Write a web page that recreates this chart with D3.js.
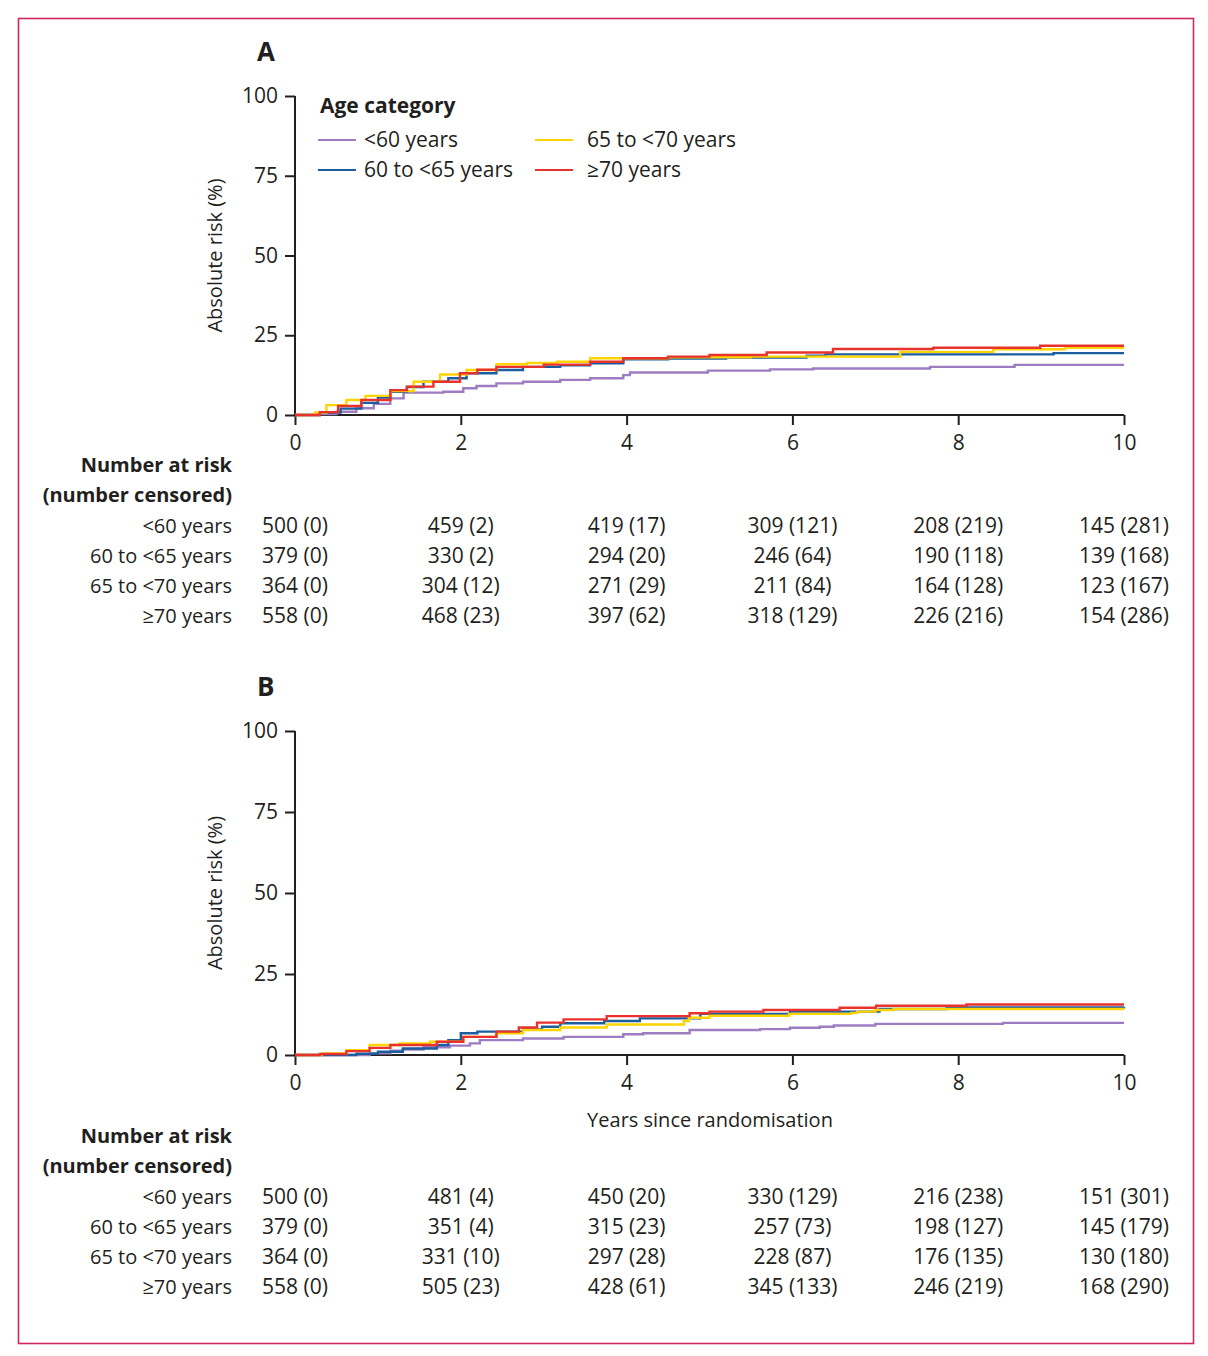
<!DOCTYPE html>
<html lang="en">
<head>
<meta charset="utf-8">
<title>Absolute risk by age category</title>
<script src="https://cdn.jsdelivr.net/npm/d3@7/dist/d3.min.js"></script>
<style>
  body { margin: 0; background: #fff; }
  text { font-family: "Open Sans", "Noto Sans", sans-serif; fill: #231f20; }
</style>
</head>
<body>
<script>
// categories + colours
var groups = ["<60 years", "60 to <65 years", "65 to <70 years", "≥70 years"];
var colors = ["#9e7cc1", "#1b5e9f", "#ffd400", "#e8322c"];
var xTicks = [0, 2, 4, 6, 8, 10];
var yTicks = [0, 25, 50, 75, 100];

// panel A curves (years, %)
var tA_lt60 = [0, 0.28, 0.5, 0.74, 0.95, 1.15, 1.31, 1.79, 2.03, 2.19, 2.43, 2.75, 3.2, 3.56, 3.96, 4.04, 4.98, 5.73, 6.25, 7.66, 8.68, 10];
var rA_lt60 = [0, 0.3, 1.0, 2.1, 3.5, 5.2, 7.0, 7.3, 8.4, 9.1, 9.9, 10.4, 11.0, 11.5, 12.5, 13.3, 13.9, 14.3, 14.6, 15.1, 15.7, 15.7];
var tA_60 = [0, 0.3, 0.55, 0.8, 1.0, 1.15, 1.35, 1.55, 1.85, 2.07, 2.43, 2.75, 3.2, 3.56, 3.96, 4.5, 5.2, 6.17, 6.4, 9.15, 10];
var rA_60 = [0, 0.8, 2.0, 3.8, 5.5, 7.3, 8.8, 10.4, 11.5, 13.1, 14.1, 15.1, 15.6, 16.2, 17.5, 17.7, 18.0, 18.6, 19.0, 19.4, 19.4];
var tA_65 = [0, 0.24, 0.38, 0.62, 0.85, 1.15, 1.43, 1.75, 2.07, 2.43, 2.8, 3.16, 3.56, 4.5, 5.5, 7.3, 8.42, 9.29, 10];
var rA_65 = [0, 0.8, 3.1, 4.7, 6.0, 7.5, 10.4, 12.7, 14.1, 15.9, 16.3, 16.7, 17.8, 18.1, 18.3, 19.8, 20.6, 21.1, 21.1];
var tA_70 = [0, 0.3, 0.52, 0.8, 1.15, 1.35, 1.67, 1.99, 2.2, 2.43, 3.0, 3.56, 3.96, 4.5, 5.0, 5.69, 6.49, 7.7, 8.99, 10];
var rA_70 = [0, 0.9, 2.8, 4.7, 7.8, 8.9, 10.4, 13.1, 14.2, 15.1, 15.8, 16.7, 17.8, 18.3, 18.8, 19.6, 20.7, 21.1, 21.7, 21.7];

// panel B curves
var tB_lt60 = [0, 0.9, 1.15, 1.3, 1.55, 1.87, 2.11, 2.23, 2.75, 3.24, 3.96, 4.2, 4.76, 5.61, 5.97, 6.33, 6.5, 7.0, 8.54, 10];
var rB_lt60 = [0, 0.5, 1.3, 1.7, 2.4, 2.9, 3.6, 4.6, 5.1, 5.6, 6.4, 6.7, 7.7, 8.0, 8.4, 8.7, 9.1, 9.6, 9.9, 9.9];
var tB_60 = [0, 0.74, 1.0, 1.3, 1.71, 1.85, 2.0, 2.2, 2.75, 2.98, 3.2, 3.73, 4.16, 4.89, 5.97, 7.05, 7.86, 10];
var rB_60 = [0, 0.4, 1.0, 2.0, 3.1, 4.6, 6.7, 7.2, 7.9, 8.7, 9.8, 10.5, 11.3, 12.7, 13.4, 14.2, 14.7, 14.8];
var tB_65 = [0, 0.32, 0.62, 0.9, 1.26, 1.63, 2.03, 2.43, 2.75, 3.2, 3.76, 4.69, 4.75, 5.0, 5.96, 6.71, 6.78, 7.0, 7.22, 10];
var rB_65 = [0, 0.5, 1.5, 3.1, 3.6, 4.1, 5.6, 6.7, 7.7, 8.5, 9.4, 10.5, 11.5, 12.1, 12.7, 13.0, 13.4, 13.9, 14.2, 14.2];
var tB_70 = [0, 0.3, 0.62, 0.9, 1.15, 1.71, 2.03, 2.43, 2.7, 2.92, 3.24, 3.76, 4.76, 5.0, 5.65, 6.57, 7.01, 8.1, 10];
var rB_70 = [0, 0.3, 1.2, 2.2, 3.1, 4.1, 5.6, 7.2, 8.5, 10.0, 11.0, 12.0, 12.9, 13.4, 13.9, 14.6, 15.2, 15.6, 15.6];

// number at risk (number censored), one row per age group
var atRiskA = [[500, 459, 419, 309, 208, 145], [379, 330, 294, 246, 190, 139], [364, 304, 271, 211, 164, 123], [558, 468, 397, 318, 226, 154]];
var censA   = [[0, 2, 17, 121, 219, 281], [0, 2, 20, 64, 118, 168], [0, 12, 29, 84, 128, 167], [0, 23, 62, 129, 216, 286]];
var atRiskB = [[500, 481, 450, 330, 216, 151], [379, 351, 315, 257, 198, 145], [364, 331, 297, 228, 176, 130], [558, 505, 428, 345, 246, 168]];
var censB   = [[0, 4, 20, 129, 238, 301], [0, 4, 23, 73, 127, 179], [0, 10, 28, 87, 135, 180], [0, 23, 61, 133, 219, 290]];

var svg = d3.select("body").append("svg")
  .attr("width", 1208).attr("height", 1356);

// frame
svg.append("rect")
  .attr("x", 18.5).attr("y", 18.5).attr("width", 1175).attr("height", 1325)
  .attr("fill", "none").attr("stroke", "#d0275e").attr("stroke-width", 1.6);

var x = d3.scaleLinear().domain([0, 10]).range([295, 1124]);

function zip(t, r) { return t.map(function(d, i) { return [d, r[i]]; }); }

function drawPanel(opt) {
  var y = d3.scaleLinear().domain([0, 100]).range([opt.y0, opt.y100]);
  var g = svg.append("g");

  g.append("text").attr("x", 257).attr("y", opt.y100 - 35)
    .style("font-size", "26px").style("font-weight", "bold").text(opt.letter);

  // y axis
  var yAxis = g.append("g").attr("transform", "translate(295,0)")
    .call(d3.axisLeft(y).tickValues(yTicks).tickSize(10).tickPadding(7));
  // x axis
  var xAxis = g.append("g").attr("transform", "translate(0," + opt.y0 + ")")
    .call(d3.axisBottom(x).tickValues(xTicks).tickSize(10).tickPadding(10));
  [yAxis, xAxis].forEach(function(a) {
    a.select(".domain").attr("stroke", "#231f20").attr("stroke-width", 2);
    a.selectAll(".tick line").attr("stroke", "#231f20").attr("stroke-width", 2);
    a.selectAll(".tick text").style("font-size", "21px")
      .style("font-family", "'Open Sans', sans-serif").attr("fill", "#231f20");
  });
  // domain paths include outer ticks; strip them
  yAxis.select(".domain").attr("d", "M0," + opt.y100 + "V" + opt.y0);
  xAxis.select(".domain").attr("d", "M295,0H1124");

  g.append("text")
    .attr("transform", "translate(222," + ((opt.y0 + opt.y100) / 2) + ") rotate(-90)")
    .attr("text-anchor", "middle").style("font-size", "20px").attr("fill", "#3a3a3a")
    .text("Absolute risk (%)");

  var line = d3.line().curve(d3.curveStepAfter)
    .x(function(d) { return x(d[0]); })
    .y(function(d) { return y(d[1]); });

  g.selectAll("path.km").data(opt.curves).enter().append("path")
    .attr("class", "km")
    .attr("d", function(d) { return line(d); })
    .attr("fill", "none")
    .attr("stroke", function(d, i) { return colors[i]; })
    .attr("stroke-width", 2.4);

  if (opt.xTitle) {
    g.append("text").attr("x", 710).attr("y", opt.y0 + 72)
      .attr("text-anchor", "middle").style("font-size", "20px").text(opt.xTitle);
  }

  // number at risk table
  var ty = opt.tableY;
  g.append("text").attr("x", 232).attr("y", ty).attr("text-anchor", "end")
    .style("font-size", "20px").style("font-weight", "bold").text("Number at risk");
  g.append("text").attr("x", 232).attr("y", ty + 30).attr("text-anchor", "end")
    .style("font-size", "20px").style("font-weight", "bold").text("(number censored)");

  groups.forEach(function(name, gi) {
    var rowY = ty + 61 + gi * 30;
    g.append("text").attr("x", 232).attr("y", rowY).attr("text-anchor", "end")
      .style("font-size", "20px").text(name);
    g.selectAll(null).data(xTicks).enter().append("text")
      .attr("x", function(d) { return x(d); })
      .attr("y", rowY)
      .attr("text-anchor", "middle")
      .style("font-size", "21px")
      .text(function(d, i) { return opt.atRisk[gi][i] + " (" + opt.cens[gi][i] + ")"; });
  });
}

drawPanel({
  letter: "A", y0: 415, y100: 96, tableY: 472,
  curves: [zip(tA_lt60, rA_lt60), zip(tA_60, rA_60), zip(tA_65, rA_65), zip(tA_70, rA_70)],
  atRisk: atRiskA, cens: censA
});
drawPanel({
  letter: "B", y0: 1055, y100: 731, tableY: 1143, xTitle: "Years since randomisation",
  curves: [zip(tB_lt60, rB_lt60), zip(tB_60, rB_60), zip(tB_65, rB_65), zip(tB_70, rB_70)],
  atRisk: atRiskB, cens: censB
});

// legend (panel A)
var leg = svg.append("g");
leg.append("text").attr("x", 320).attr("y", 113)
  .style("font-size", "21px").style("font-weight", "bold").text("Age category");
var legPos = [[318, 140], [318, 170], [535, 140], [535, 170]];
groups.forEach(function(name, i) {
  var p = legPos[i];
  leg.append("line").attr("x1", p[0]).attr("x2", p[0] + 38)
    .attr("y1", p[1]).attr("y2", p[1])
    .attr("stroke", colors[i]).attr("stroke-width", 2);
  leg.append("text").attr("x", p[0] + 46 + (i >= 2 ? 6 : 0)).attr("y", p[1] + 7)
    .style("font-size", "21px").text(name);
});
</script>
</body>
</html>
